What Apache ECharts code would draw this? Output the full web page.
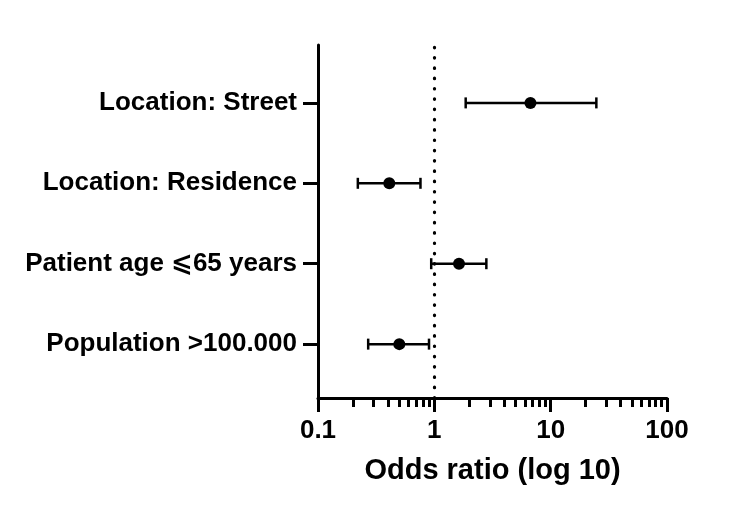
<!DOCTYPE html>
<html><head><meta charset="utf-8">
<script src="https://cdn.jsdelivr.net/npm/echarts@6/dist/echarts.min.js"></script>
<style>html,body{margin:0;padding:0;background:#fff}#c{width:750px;height:516px}</style>
</head><body><div id="c"></div>
<script>
const categories = ['Population >100.000', 'Patient age \u2A7D65 years', 'Location: Residence', 'Location: Street'];
const oddsRatio = [0.50, 1.63, 0.41, 6.7];
const ciLow = [0.27, 0.94, 0.22, 1.86];
const ciHigh = [0.90, 2.8, 0.76, 24.7];
const xTickLabels = [0.1, 1, 10, 100];
const minorTicks = [];
[0.1, 1, 10].forEach(d => { for (let k = 2; k <= 9; k++) minorTicks.push(+(d * k).toFixed(4)); });
const rowPos = categories.map((c, i) => i + 1);

const font = '"Liberation Sans", Arial, "DejaVu Sans", sans-serif';
const chart = echarts.init(document.getElementById('c'));
chart.setOption({
  animation: false,
  grid: { left: 318, right: 83, top: 45, bottom: 118, containLabel: false },
  xAxis: [{
    type: 'log', logBase: 10, min: 0.1, max: 100, position: 'bottom',
    name: 'Odds ratio (log 10)', nameLocation: 'middle', nameGap: 58,
    nameTextStyle: { fontFamily: font, fontWeight: 'bold', fontSize: 29, color: '#000' },
    axisLine: { show: true, lineStyle: { color: '#000', width: 3 } },
    axisTick: { show: true, length: 14, lineStyle: { color: '#000', width: 3 }, customValues: xTickLabels },
    axisLabel: { show: true, margin: 20, fontFamily: font, fontWeight: 'bold', fontSize: 26, color: '#000', customValues: xTickLabels,
      formatter: v => String(v) },
    splitLine: { show: false }, minorTick: { show: false }
  }, {
    type: 'log', logBase: 10, min: 0.1, max: 100, position: 'bottom',
    axisLine: { show: false },
    axisTick: { show: true, length: 9, lineStyle: { color: '#000', width: 3 }, customValues: minorTicks },
    axisLabel: { show: false }, splitLine: { show: false }
  }],
  yAxis: {
    type: 'value', min: 0.33, max: 4.72,
    axisLine: { show: true, lineStyle: { color: '#000', width: 3 } },
    axisTick: { show: true, length: 15, lineStyle: { color: '#000', width: 3 }, customValues: rowPos },
    axisLabel: { show: true, margin: 21, fontFamily: font, fontWeight: 'bold', fontSize: 26, color: '#000', customValues: rowPos,
      formatter: v => categories[Math.round(v) - 1] || '' },
    splitLine: { show: false }
  },
  series: [{
    type: 'custom',
    xAxisIndex: 0,
    data: rowPos.map((y, i) => [ciLow[i], ciHigh[i], y]),
    renderItem: function (params, api) {
      const a = api.coord([api.value(0), api.value(2)]);
      const b = api.coord([api.value(1), api.value(2)]);
      const h = 5.5;
      const st = { stroke: '#000', lineWidth: 2.5 };
      return { type: 'group', children: [
        { type: 'line', shape: { x1: a[0], y1: a[1], x2: b[0], y2: b[1] }, style: st },
        { type: 'line', shape: { x1: a[0], y1: a[1] - h, x2: a[0], y2: a[1] + h }, style: st },
        { type: 'line', shape: { x1: b[0], y1: b[1] - h, x2: b[0], y2: b[1] + h }, style: st }
      ]};
    },
    z: 3
  }, {
    type: 'scatter',
    xAxisIndex: 0,
    symbol: 'circle', symbolSize: 12,
    itemStyle: { color: '#000', opacity: 1 },
    data: rowPos.map((y, i) => [oddsRatio[i], y]),
    z: 4,
    markLine: {
      silent: true, symbol: 'none', label: { show: false },
      lineStyle: { color: '#000', width: 3.2, type: [0.5, 9.8], cap: 'round' },
      data: [{ xAxis: 1 }]
    }
  }]
});
</script></body></html>
